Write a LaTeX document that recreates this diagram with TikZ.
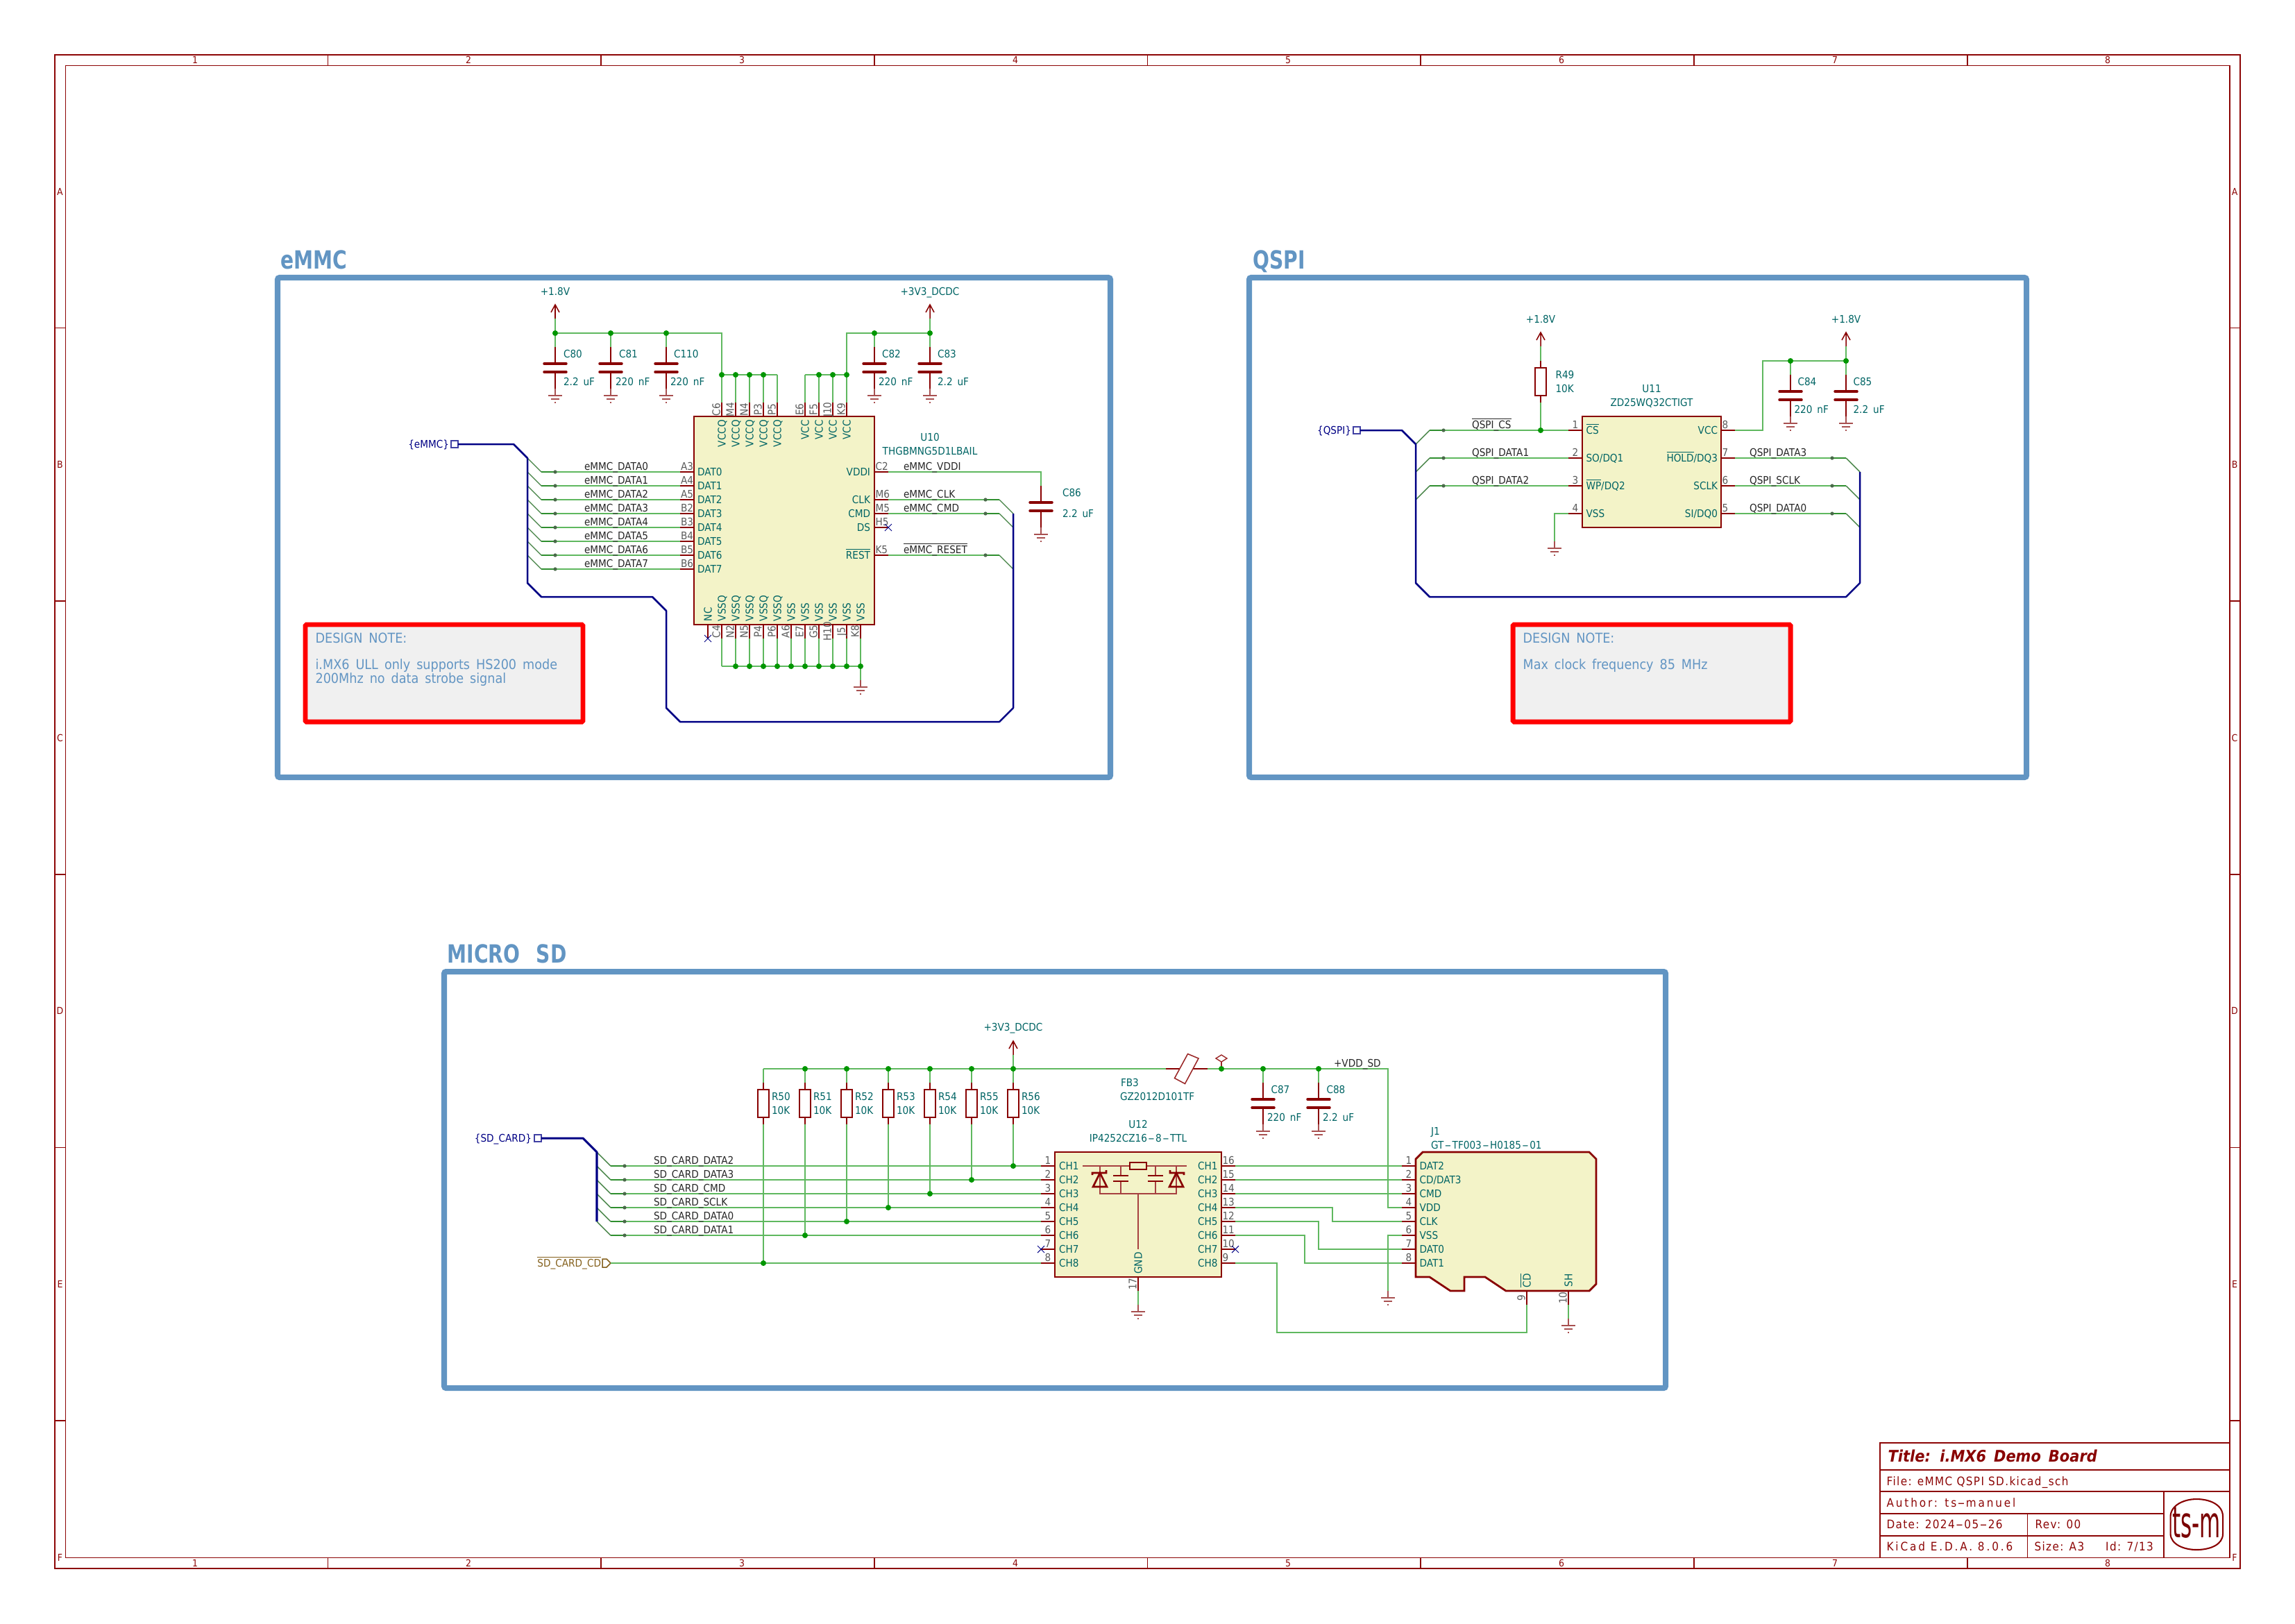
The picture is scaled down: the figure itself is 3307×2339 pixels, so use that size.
\documentclass[tikz,border=0pt]{standalone}
\usepackage{fontspec}
\setmainfont{DejaVu Sans}
\newfontfamily\kf[FakeStretch=0.9,WordSpace=1.6]{DejaVu Sans}
\newfontfamily\ktrack[FakeStretch=0.9,LetterSpace=8]{DejaVu Sans}
\newfontfamily\ktrackw[FakeStretch=0.9,LetterSpace=17]{DejaVu Sans}
\newfontfamily\khead[FakeStretch=0.78,WordSpace=2.4]{DejaVu Sans Bold}
\newfontfamily\ktitle[FakeStretch=0.91,WordSpace=1.5]{DejaVu Sans Bold Oblique}
\newfontfamily\klogo[FakeStretch=0.5]{DejaVu Sans}
\newcommand\ks{\kf\fontsize{5.45}{6}\selectfont}
\newcommand\kn{\kf\fontsize{7.05}{8}\selectfont}
\newcommand\ol[1]{\leavevmode\vbox{\hrule height .35pt \kern .75pt \hbox{#1}}}
\newcommand\hy{\kern.08em\scalebox{2}[1]{-}\kern.08em}
\definecolor{sheet}{HTML}{8C0505}
\definecolor{symb}{HTML}{880000}
\definecolor{symbpale}{HTML}{A85050}
\definecolor{wirec}{HTML}{5FB85F}
\definecolor{juncc}{HTML}{009600}
\definecolor{busc}{HTML}{000084}
\definecolor{refc}{HTML}{006464}
\definecolor{numc}{HTML}{5A5A5A}
\definecolor{boxc}{HTML}{6295C3}
\definecolor{bodyc}{HTML}{F3F3C8}
\definecolor{notec}{HTML}{F0F0F0}
\definecolor{portc}{HTML}{84601C}
\definecolor{dotc}{HTML}{4A6A4A}
\definecolor{stubc}{HTML}{2F8F2F}
\newcount\nn
\newcommand\tx[3]{\global\advance\nn by 1 \node[#1] (n\the\nn) at (#2) {#3};}
\tikzset{
  x=0.36pt,y=-0.36pt,
  tb/.style={inner sep=0pt,outer sep=0pt,text height=3.96pt,text depth=0pt,font=\ks},
  aw/.style={tb,anchor=west},
  ae/.style={tb,anchor=east},
  ac/.style={tb,anchor=center},
  refl/.style={text=refc},
  numl/.style={text=numc},
  sigl/.style={text=black!85},
  portl/.style={text=busc},
  rot/.style={rotate=90},
  notet/.style={inner sep=0pt,anchor=west,text=boxc,font=\kn,text height=5.2pt,text depth=0pt},
  headt/.style={inner sep=0pt,anchor=west,text=boxc,font=\khead\fontsize{13}{14}\selectfont,text height=9.6pt,text depth=0pt},
  sheetl/.style={draw=sheet,line width=.65pt},
  sheett/.style={inner sep=0pt,text=sheet,font=\ktrack\fontsize{6.1}{7}\selectfont,text height=4.4pt,text depth=0pt,anchor=west},
  sheetw/.style={sheett,font=\ktrackw\fontsize{6.1}{7}\selectfont},
  gridt/.style={inner sep=0pt,text=sheet,font=\kf\fontsize{5}{6}\selectfont,anchor=center},
  wire/.style={draw=wirec,line width=.85pt,line join=miter},
  entry/.style={draw=wirec!70!black,line width=.5pt},
  stub/.style={draw=stubc,line width=.85pt},
  dotb/.style={fill=dotc},
  junc/.style={fill=juncc},
  bus/.style={draw=busc,line width=.9pt,line join=round},
  pin/.style={draw=symb,line width=.85pt},
  thin/.style={draw=symbpale,line width=.55pt},
  thick/.style={draw=symb,line width=1.15pt},
  body/.style={draw=symb,line width=1pt,fill=bodyc,line join=miter},
  nc/.style={draw=busc,line width=.35pt},
  design/.style={draw=boxc,line width=2.9pt,rounded corners=1pt},
  notebox/.style={draw=red,line width=2.5pt,fill=notec,rounded corners=.6pt},
  port/.style={draw=busc!75,line width=.6pt},
}
\newcommand\Jn[1]{\fill[junc] (#1) circle[radius=1.45pt];}
\newcommand\Gn[3]{\coordinate (#1) at (#2,#3-10);
  \draw[thin] (#2,#3-10) -- (#2,#3) (#2-10,#3) -- (#2+10,#3) (#2-6,#3+5) -- (#2+6,#3+5) (#2-1,#3+10) -- (#2+1,#3+10);}
\newcommand\Cp[3]{\coordinate (#1t) at (#2,#3-30);\coordinate (#1b) at (#2,#3+30);
  \draw[pin,line width=.75pt] (#1t) -- (#2,#3-6) (#2,#3+6) -- (#1b);
  \draw[draw=symb,line width=1.25pt,line cap=round] (#2-16,#3-6) -- (#2+16,#3-6) (#2-16,#3+6) -- (#2+16,#3+6);
  \Gn{#1g}{#2}{#3+40}}
\newcommand\Pw[3]{\coordinate (#1) at (#2,#3+20);
  \draw[pin,line width=.55pt] (#2-6,#3+11) -- (#2,#3) -- (#2+6,#3+11) (#2,#3) -- (#1);}
\newcommand\Rs[3]{\coordinate (#1t) at (#2,#3-30);\coordinate (#1b) at (#2,#3+30);
  \draw[pin,line width=.7pt] (#1t) -- (#2,#3-20) (#2,#3+20) -- (#1b);
  \draw[draw=symb,line width=.95pt,fill=white] (#2-8,#3-20) rectangle (#2+8,#3+20);}
\newcommand\PL[4]{\coordinate (#1) at (#2-20,#3);\draw[pin] (#1) -- (#2,#3);\tx{ac,numl}{#2-10,#3-8}{#4}}
\newcommand\PR[4]{\coordinate (#1) at (#2+20,#3);\draw[pin] (#1) -- (#2,#3);\tx{aw,numl}{#2+1.5,#3-8}{#4}}
\newcommand\NC[2]{\draw[nc] (#1-5,#2-5) -- (#1+5,#2+5) (#1-5,#2+5) -- (#1+5,#2-5);}
\newcommand\Bd[2]{\draw[stub] (#1) -- (#2);\fill[dotb] (#2) circle[radius=.95pt];}
\begin{document}
\begin{tikzpicture}
\useasboundingbox (0,0) rectangle (3307,2339);
% ===== sheet frame =====
\coordinate (fa) at (78.7,78.7);\coordinate (fb) at (3228.3,2260.3);
\coordinate (fc) at (94.5,94.5);\coordinate (fd) at (3212.6,2244.4);
\draw[sheetl] (fa) rectangle (fb) (fc) rectangle (fd);
\foreach \X in {472.4,866.1,1259.8,1653.5,2047.2,2440.9,2834.6}{
  \draw[sheetl] (\X,78.7) -- (\X,94.5) (\X,2244.4) -- (\X,2260.3);}
\foreach \Y in {472.4,866.1,1259.8,1653.5,2047.2}{
  \draw[sheetl] (78.7,\Y) -- (94.5,\Y) (3212.6,\Y) -- (3228.3,\Y);}
\foreach \X/\L in {281/1,675/2,1069/3,1463/4,1856/5,2250/6,2644/7,3037/8}{
  \tx{gridt}{\X,86.5}{\L}\tx{gridt}{\X,2252}{\L}}
\foreach \Y/\L in {276/A,669/B,1063/C,1456/D,1850/E,2244/F}{
  \tx{gridt}{86.5,\Y}{\L}\tx{gridt}{3220,\Y}{\L}}
% ===== title block =====
\draw[sheetl] (2708.6,2079) rectangle (3212.6,2244.4);
\draw[sheetl] (2708.6,2118.3) -- (3212.6,2118.3) (2708.6,2149.3) -- (3212.6,2149.3);
\draw[sheetl] (2708.6,2181) -- (3117.9,2181) (2708.6,2212.7) -- (3117.9,2212.7);
\draw[sheetl] (3117.9,2149.3) -- (3117.9,2244.4) (2921.4,2181) -- (2921.4,2244.4);
\tx{inner sep=0pt,anchor=west,text=symb,font=\ktitle\fontsize{8.3}{9}\selectfont,text height=5.8pt,text depth=0pt}{2720,2098}{Title: i.MX6 Demo Board}
\tx{sheett}{2718,2134}{File: eMMC QSPI SD.kicad\_sch}
\tx{sheetw}{2718,2165.7}{Author: ts\hy manuel}
\tx{sheett}{2718,2196.7}{Date: 2024\hy 05\hy 26}
\tx{sheett}{2932,2196.7}{Rev: 00}
\tx{sheetw}{2718,2228}{KiCad E.D.A. 8.0.6}
\tx{sheett}{2931,2228}{Size: A3}
\tx{sheett}{3033.6,2228}{Id: 7/13}
\draw[draw=symb,line width=.75pt] (3127.5,2185) .. controls (3128,2168) and (3148,2160) .. (3165,2160) .. controls (3184,2160) and (3203,2168) .. (3203,2185) -- (3203,2210) .. controls (3203,2226) and (3184,2233) .. (3165,2233) .. controls (3148,2233) and (3128,2226) .. (3127.5,2210) -- cycle;
\tx{inner sep=0pt,anchor=center,text=symb!90!black,font=\klogo\fontsize{22.3}{24}\selectfont,text height=15.8pt,text depth=0pt}{3165,2194}{ts-m}
% ===== design boxes =====
\draw[design] (400,400) rectangle (1600,1120);
\draw[design] (1800,400) rectangle (2920,1120);
\draw[design] (640,1400) rectangle (2400,2000);
\tx{headt}{404,374}{eMMC}
\tx{headt}{1805,374}{QSPI}
\tx{headt}{644,1374}{MICRO SD}
\draw[notebox] (440,900) rectangle (840,1040);
\draw[notebox] (2180,900) rectangle (2580,1040);
\tx{notet}{454,919}{DESIGN NOTE:}
\tx{notet}{454,957}{i.MX6 ULL only supports HS200 mode}
\tx{notet}{454,977}{200Mhz no data strobe signal}
\tx{notet}{2194,919}{DESIGN NOTE:}
\tx{notet}{2194,957}{Max clock frequency 85 MHz}
% ===== eMMC section =====
\draw[body] (1000,600) rectangle (1260,900);
\Pw{p18a}{800}{439}\tx{ac,refl}{800,420}{+1.8V}
\Pw{p33a}{1340}{439}\tx{ac,refl}{1340,420}{+3V3\_DCDC}
\Cp{c80}{800}{530}\Cp{c81}{880}{530}\Cp{c110}{960}{530}\Cp{c82}{1260}{530}\Cp{c83}{1340}{530}\Cp{c86}{1500}{730}
\tx{aw,refl}{812,510}{C80}\tx{aw,refl}{812,550}{2.2 uF}
\tx{aw,refl}{892,510}{C81}\tx{aw,refl}{887,550}{220 nF}
\tx{aw,refl}{971,510}{C110}\tx{aw,refl}{966,550}{220 nF}
\tx{aw,refl}{1271,510}{C82}\tx{aw,refl}{1266,550}{220 nF}
\tx{aw,refl}{1351,510}{C83}\tx{aw,refl}{1351,550}{2.2 uF}
\tx{aw,refl}{1531,710}{C86}\tx{aw,refl}{1531,740}{2.2 uF}
\tx{ac,refl}{1340,630}{U10}\tx{ac,refl}{1340,650}{THGBMNG5D1LBAIL}
\foreach \pn/\nm/\Y/\lb in {A3/DAT0/680/0,A4/DAT1/700/1,A5/DAT2/720/2,B2/DAT3/740/3,B3/DAT4/760/4,B4/DAT5/780/5,B5/DAT6/800/6,B6/DAT7/820/7}{
  \PL{u10\pn}{1000}{\Y}{\pn}
  \tx{aw,refl}{1005,\Y}{\nm}
  \coordinate (e\pn) at (780,\Y);\coordinate (d\pn) at (800,\Y);
  \coordinate (s\pn) at (760,\Y-20);
  \draw[wire] (d\pn) -- (u10\pn);
  \draw[entry] (s\pn) -- (e\pn);
  \Bd{e\pn}{d\pn}
  \tx{aw,sigl}{842,\Y-8}{eMMC\_DATA\lb}
}
\PR{u10C2}{1260}{680}{C2}\PR{u10M6}{1260}{720}{M6}\PR{u10M5}{1260}{740}{M5}\PR{u10H5}{1260}{760}{H5}\PR{u10K5}{1260}{800}{K5}
\tx{ae,refl}{1254,680}{VDDI}\tx{ae,refl}{1254,720}{CLK}\tx{ae,refl}{1254,740}{CMD}\tx{ae,refl}{1254,760}{DS}\tx{ae,refl}{1254,800}{\ol{REST}}
\NC{1280}{760}
\draw[wire] (u10C2) -| (c86t);
\tx{aw,sigl}{1302,672}{eMMC\_VDDI}
\foreach \pn/\Y/\lb in {M6/720/eMMC\_CLK,M5/740/eMMC\_CMD,K5/800/\ol{eMMC\_RESET}}{
  \coordinate (d\pn) at (1420,\Y);\coordinate (e\pn) at (1440,\Y);\coordinate (s\pn) at (1460,\Y+20);
  \draw[wire] (u10\pn) -- (d\pn);
  \draw[entry] (e\pn) -- (s\pn);
  \Bd{e\pn}{d\pn}
  \tx{aw,sigl}{1302,\Y-8}{\lb}
}
\foreach \X/\pn/\nm in {1040/C6/VCCQ,1060/M4/VCCQ,1080/N4/VCCQ,1100/P3/VCCQ,1120/P5/VCCQ,1160/E6/VCC,1180/F5/VCC,1200/J10/VCC,1220/K9/VCC}{
  \coordinate (u10\pn) at (\X,580);
  \draw[pin] (u10\pn) -- (\X,600);
  \tx{ac,numl,rot}{\X-8,590}{\pn}
  \tx{ae,refl,rot}{\X,605}{\nm}
  \coordinate (t\pn) at (\X,540);
  \draw[wire] (t\pn) -- (u10\pn);
}
\draw[wire] (tC6) -- (tP5) (tE6) -- (tK9);
\foreach \X/\nm in {1020/NC,1040/VSSQ,1060/VSSQ,1080/VSSQ,1100/VSSQ,1120/VSSQ,1140/VSS,1160/VSS,1180/VSS,1200/VSS,1220/VSS,1240/VSS}{
  \coordinate (b\X) at (\X,920);
  \draw[pin] (b\X) -- (\X,900);
  \tx{aw,refl,rot}{\X,895}{\nm}
}
\NC{1020}{920}
\foreach \X/\pn in {1040/C4,1060/N2,1080/N5,1100/P4,1120/P6,1140/A6,1160/E7,1180/G5,1200/H10,1220/J5,1240/K8}{
  \tx{ac,numl,rot}{\X-8,910}{\pn}
  \coordinate (r\X) at (\X,960);
  \draw[wire] (b\X) -- (r\X);
}
\draw[wire] (r1040) -- (r1240);
\Gn{g10}{1240}{990}
\draw[wire] (r1240) -- (g10);
\foreach \X in {1060,1080,...,1240}{\Jn{r\X}}
\coordinate (j1) at (800,480);\coordinate (j2) at (880,480);\coordinate (j3) at (960,480);
\coordinate (j4) at (1040,480);\coordinate (j5) at (1220,480);\coordinate (j6) at (1260,480);\coordinate (j7) at (1340,480);
\draw[wire] (p18a) -- (j1) -- (c80t) (j2) -- (c81t) (j3) -- (c110t) (j1) -- (j4) -- (tC6);
\draw[wire] (tK9) -- (j5) -- (j7) (p33a) -- (j7) -- (c83t) (j6) -- (c82t);
\foreach \q in {j1,j2,j3,j6,j7,tC6,tM4,tN4,tP3,tF5,tJ10,tK9}{\Jn{\q}}
\coordinate (bp) at (660,640);
\draw[port] (650,635) rectangle (660,645);
\tx{ae,portl}{647,640}{\{eMMC\}}
\coordinate (b1) at (740,640);\coordinate (b2) at (760,660);\coordinate (b3) at (760,840);\coordinate (b4) at (780,860);
\coordinate (b5) at (940,860);\coordinate (b6) at (960,880);\coordinate (b7) at (960,1020);\coordinate (b8) at (980,1040);
\coordinate (b9) at (1440,1040);\coordinate (b10) at (1460,1020);\coordinate (b11) at (1460,740);
\draw[bus] (bp) -- (b1) -- (b2) -- (b3) -- (b4) -- (b5) -- (b6) -- (b7) -- (b8) -- (b9) -- (b10) -- (b11);
% ===== QSPI section =====
\draw[body] (2280,600) rectangle (2480,760);
\tx{ac,refl}{2380,560}{U11}\tx{ac,refl}{2380,580}{ZD25WQ32CTIGT}
\PL{u11a}{2280}{620}{1}\PL{u11b}{2280}{660}{2}\PL{u11c}{2280}{700}{3}\PL{u11d}{2280}{740}{4}
\PR{u11h}{2480}{620}{8}\PR{u11g}{2480}{660}{7}\PR{u11f}{2480}{700}{6}\PR{u11e}{2480}{740}{5}
\tx{aw,refl}{2285.5,620}{\ol{CS}}\tx{aw,refl}{2285.5,660}{SO/DQ1}\tx{aw,refl}{2285.5,700}{\ol{WP}/DQ2}\tx{aw,refl}{2285.5,740}{VSS}
\tx{ae,refl}{2475,620}{VCC}\tx{ae,refl}{2475,660}{\ol{HOLD}/DQ3}\tx{ae,refl}{2475,700}{SCLK}\tx{ae,refl}{2475,740}{SI/DQ0}
\Pw{p18b}{2220}{479}\tx{ac,refl}{2220,460}{+1.8V}
\Pw{p18c}{2660}{479}\tx{ac,refl}{2660,460}{+1.8V}
\Rs{r49}{2220}{550}
\tx{aw,refl}{2241.5,540}{R49}\tx{aw,refl}{2241.5,560}{10K}
\Cp{c84}{2580}{570}\Cp{c85}{2660}{570}
\tx{aw,refl}{2590.5,550}{C84}\tx{aw,refl}{2585.5,590}{220 nF}
\tx{aw,refl}{2670.5,550}{C85}\tx{aw,refl}{2670.5,590}{2.2 uF}
\coordinate (q1) at (2220,620);\coordinate (q2) at (2580,520);\coordinate (q3) at (2660,520);\coordinate (q4) at (2540,520);
\draw[wire] (p18b) -- (r49t) (r49b) -- (q1);
\draw[wire] (u11h) -| (q4) -- (q3) (p18c) -- (c85t) (q2) -- (c84t);
\Gn{g11}{2240}{790}
\draw[wire] (u11d) -| (g11);
\foreach \q/\Y/\lb in {a/620/\ol{QSPI\_CS},b/660/QSPI\_DATA1,c/700/QSPI\_DATA2}{
  \coordinate (qd\q) at (2080,\Y);\coordinate (qe\q) at (2060,\Y);\coordinate (qs\q) at (2040,\Y+20);
  \draw[wire] (qd\q) -- (u11\q);
  \draw[entry] (qs\q) -- (qe\q);
  \Bd{qe\q}{qd\q}
  \tx{aw,sigl}{2121,\Y-8}{\lb}
}
\foreach \q/\Y/\lb in {g/660/QSPI\_DATA3,f/700/QSPI\_SCLK,e/740/QSPI\_DATA0}{
  \coordinate (qd\q) at (2640,\Y);\coordinate (qe\q) at (2660,\Y);\coordinate (qs\q) at (2680,\Y+20);
  \draw[wire] (u11\q) -- (qd\q);
  \draw[entry] (qe\q) -- (qs\q);
  \Bd{qe\q}{qd\q}
  \tx{aw,sigl}{2521,\Y-8}{\lb}
}
\foreach \q in {q1,q2,q3}{\Jn{\q}}
\draw[port] (1950,615) rectangle (1960,625);
\tx{ae,portl}{1947,620}{\{QSPI\}}
\coordinate (qb0) at (1960,620);\coordinate (qb1) at (2020,620);\coordinate (qb2) at (2040,640);\coordinate (qb3) at (2040,840);
\coordinate (qb4) at (2060,860);\coordinate (qb5) at (2660,860);\coordinate (qb6) at (2680,840);\coordinate (qb7) at (2680,680);
\draw[bus] (qb0) -- (qb1) -- (qb2) -- (qb3) -- (qb4) -- (qb5) -- (qb6) -- (qb7);
% ===== micro SD section =====
\draw[body] (1520,1660) rectangle (1760,1840);
\tx{ac,refl}{1640,1620}{U12}\tx{ac,refl}{1640,1640}{IP4252CZ16\hy 8\hy TTL}
\draw[body] (2040,1670) -- (2050,1660) -- (2290,1660) -- (2300,1670) -- (2300,1850) -- (2290,1860) -- (2170,1860) -- (2140,1840) -- (2110,1840) -- (2110,1860) -- (2090,1860) -- (2060,1840) -- (2040,1840) -- cycle;
\tx{aw,refl}{2062,1630}{J1}\tx{aw,refl}{2062,1650}{GT\hy TF003\hy H0185\hy 01}
\foreach \i/\Y in {1/1680,2/1700,3/1720,4/1740,5/1760,6/1780,7/1800,8/1820}{
  \PL{ul\i}{1520}{\Y}{\i}
  \tx{aw,refl}{1526,\Y}{CH\i}
  \tx{ae,refl}{1754.5,\Y}{CH\i}
  \PL{jl\i}{2040}{\Y}{\i}
}
\foreach \n/\nu/\Y in {1/16/1680,2/15/1700,3/14/1720,4/13/1740,5/12/1760,6/11/1780,7/10/1800,8/9/1820}{
  \PR{ur\n}{1760}{\Y}{\nu}
}
\tx{aw,refl}{2045.5,1680}{DAT2}\tx{aw,refl}{2045.5,1700}{CD/DAT3}\tx{aw,refl}{2045.5,1720}{CMD}\tx{aw,refl}{2045.5,1740}{VDD}
\tx{aw,refl}{2045.5,1760}{CLK}\tx{aw,refl}{2045.5,1780}{VSS}\tx{aw,refl}{2045.5,1800}{DAT0}\tx{aw,refl}{2045.5,1820}{DAT1}
\NC{1500}{1800}\NC{1780}{1800}
\draw[thin,draw=symb!75,line width=.6pt] (1560,1680) -- (1628,1680) (1652,1680) -- (1710,1680);
\draw[thin,draw=symb!75,line width=.6pt] (1585,1680) -- (1585,1720) -- (1695,1720) -- (1695,1680);
\draw[thin,draw=symb!75,line width=.6pt] (1615,1680) -- (1615,1694) (1615,1702) -- (1615,1720) (1665,1680) -- (1665,1694) (1665,1702) -- (1665,1720) (1640,1720) -- (1640,1800);
\draw[thick,line width=.95pt] (1628,1675) rectangle (1652,1685);
\draw[thick,line width=.95pt] (1604,1694) -- (1626,1694) (1604,1702) -- (1626,1702) (1654,1694) -- (1676,1694) (1654,1702) -- (1676,1702);
\draw[thick,line width=.95pt,line join=miter] (1574,1693) -- (1574,1690) -- (1594,1690) -- (1594,1686) (1585,1690) -- (1575,1710) -- (1595,1710) -- cycle;
\draw[thick,line width=.95pt,line join=miter] (1706,1693) -- (1706,1690) -- (1686,1690) -- (1686,1686) (1695,1690) -- (1685,1710) -- (1705,1710) -- cycle;
\tx{ac,refl,rot}{1640,1820}{GND}
\coordinate (u12g) at (1640,1860);
\draw[pin] (1640,1840) -- (u12g);
\tx{ac,numl,rot}{1632,1850}{17}
\Gn{gu12}{1640}{1890}
\draw[wire] (u12g) -- (gu12);
\coordinate (jcd) at (2200,1880);\coordinate (jsh) at (2260,1880);
\draw[pin] (2200,1860) -- (jcd) (2260,1860) -- (jsh);
\tx{ac,refl,rot}{2200,1845}{\ol{CD}}\tx{ac,refl,rot}{2260,1845}{SH}
\tx{ac,numl,rot}{2192,1870}{9}\tx{ac,numl,rot}{2252,1870}{10}
\Gn{gsh}{2260}{1910}
\draw[wire] (jsh) -- (gsh);
\Gn{gv}{2000}{1870}
\draw[wire] (jl6) -| (gv);
\draw[wire] (ur1) -- (jl1) (ur2) -- (jl2) (ur3) -- (jl3);
\coordinate (w4) at (1920,1740);\coordinate (w5) at (1900,1760);\coordinate (w6) at (1880,1780);\coordinate (w8) at (1840,1820);\coordinate (w9) at (1840,1920);
\draw[wire] (ur4) -- (w4) |- (jl5);
\draw[wire] (ur5) -- (w5) |- (jl7);
\draw[wire] (ur6) -- (w6) |- (jl8);
\draw[wire] (ur8) -- (w8) -- (w9) -| (jcd);
\Pw{p33b}{1460}{1500}\tx{ac,refl}{1460,1480}{+3V3\_DCDC}
\foreach \rr/\X/\Yb in {50/1100/1820,51/1160/1780,52/1220/1760,53/1280/1740,54/1340/1720,55/1400/1700,56/1460/1680}{
  \Rs{r\rr}{\X}{1590}
  \tx{aw,refl}{\X+12,1580}{R\rr}\tx{aw,refl}{\X+12,1600}{10K}
  \coordinate (rt\rr) at (\X,1540);\coordinate (rj\rr) at (\X,\Yb);
  \draw[wire] (rt\rr) -- (r\rr t) (r\rr b) -- (rj\rr);
}
\coordinate (fbl) at (1680,1540);\coordinate (fbr) at (1740,1540);\coordinate (vf) at (1760,1540);
\coordinate (v1) at (1820,1540);\coordinate (v2) at (1900,1540);\coordinate (v3) at (2000,1540);
\draw[wire] (rt50) -- (fbl) (p33b) -- (rt56) (fbr) -- (v3) |- (jl4);
\draw[pin,line width=.7pt] (fbl) -- (fbr);
\draw[draw=symb!85,line width=.55pt,fill=white] (1711.5,1518.5) -- (1727,1525) -- (1707.5,1561.5) -- (1692.5,1553.5) -- cycle;
\tx{aw,refl}{1615,1560}{FB3}\tx{aw,refl}{1614,1580}{GZ2012D101TF}
\coordinate (pf) at (1760,1530);
\draw[draw=symb!85,line width=.5pt] (vf) -- (pf);
\draw[draw=symb!85,line width=.5pt] (pf) -- (1752,1525) -- (1760,1520) -- (1768,1525) -- cycle;
\Cp{c87}{1820}{1590}\Cp{c88}{1900}{1590}
\draw[wire] (v1) -- (c87t) (v2) -- (c88t);
\tx{aw,refl}{1831.5,1570}{C87}\tx{aw,refl}{1826,1610}{220 nF}
\tx{aw,refl}{1911.5,1570}{C88}\tx{aw,refl}{1906,1610}{2.2 uF}
\tx{aw,sigl}{1922,1532}{+VDD\_SD}
\coordinate (cdp) at (880,1820);
\draw[draw=portc,line width=.55pt] (868,1814) -- (874,1814) -- (cdp) -- (874,1826) -- (868,1826) -- cycle;
\tx{ae,text=portc}{866,1820}{\ol{SD\_CARD\_CD}}
\draw[wire] (cdp) -- (ul8);
\foreach \i/\Y/\lb in {1/1680/SD\_CARD\_DATA2,2/1700/SD\_CARD\_DATA3,3/1720/SD\_CARD\_CMD,4/1740/SD\_CARD\_SCLK,5/1760/SD\_CARD\_DATA0,6/1780/SD\_CARD\_DATA1}{
  \coordinate (se\i) at (880,\Y);\coordinate (sd\i) at (900,\Y);\coordinate (ss\i) at (860,\Y-20);
  \draw[wire] (se\i) -- (ul\i);
  \draw[entry] (ss\i) -- (se\i);
  \Bd{se\i}{sd\i}
  \tx{aw,sigl}{942,\Y-8}{\lb}
}
\foreach \q in {rj50,rj51,rj52,rj53,rj54,rj55,rj56,rt51,rt52,rt53,rt54,rt55,rt56,vf,v1,v2}{\Jn{\q}}
\draw[port] (770,1635) rectangle (780,1645);
\tx{ae,portl}{766,1640}{\{SD\_CARD\}}
\coordinate (sb0) at (780,1640);\coordinate (sb1) at (840,1640);\coordinate (sb2) at (860,1660);\coordinate (sb3) at (860,1760);
\draw[bus,line width=1.1pt] (sb0) -- (sb1) -- (sb2) -- (sb3);
\end{tikzpicture}
\end{document}
